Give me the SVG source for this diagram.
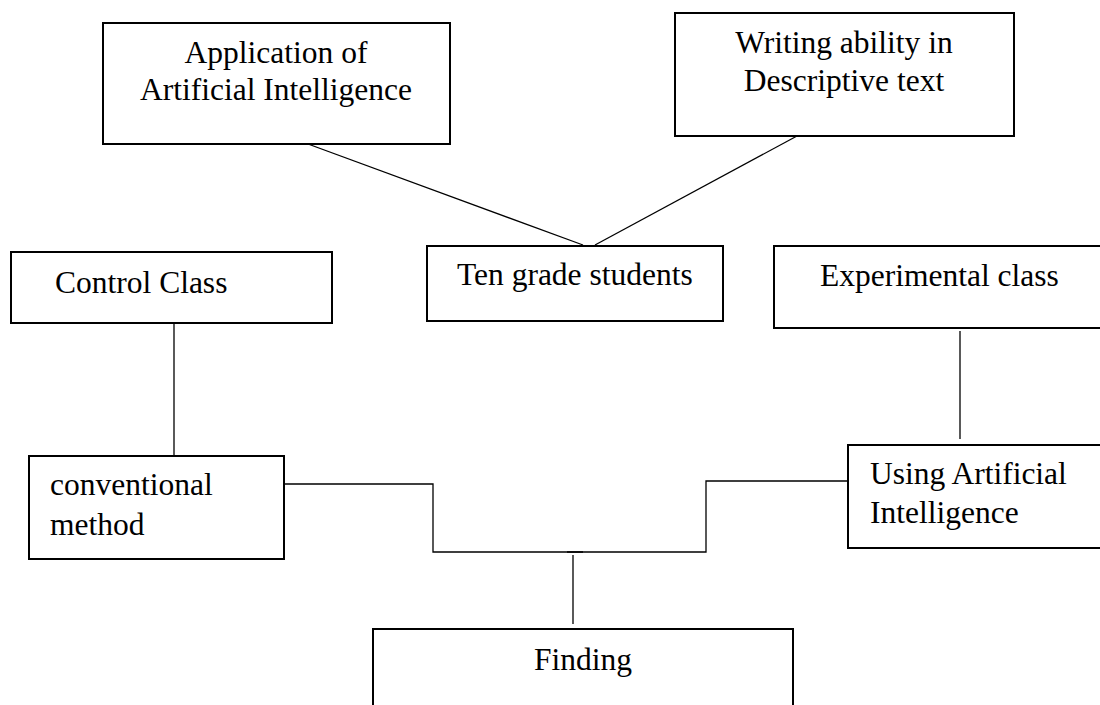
<svg xmlns="http://www.w3.org/2000/svg" width="1100" height="705" viewBox="0 0 1100 705">
<style>
.box{fill:#fff;stroke:#000;stroke-width:2}
.ln{fill:none;stroke:#000;stroke-width:1.3}
text{font-family:"Liberation Serif","Times New Roman",serif;font-size:31.5px;fill:#000}
.c{text-anchor:middle}
</style>
<rect width="1100" height="705" fill="#fff"/>
<g id="connectors">
<line class="ln" x1="308" y1="144" x2="583" y2="245"/>
<line class="ln" x1="797" y1="136" x2="595" y2="245"/>
<line class="ln" x1="174" y1="321" x2="174" y2="456"/>
<line class="ln" x1="960" y1="331" x2="960" y2="439"/>
<polyline class="ln" points="285,484 433,484 433,552 583,552"/>
<polyline class="ln" points="847,481 706,481 706,552 567,552"/>
<line class="ln" x1="573" y1="555" x2="573" y2="624"/>
</g>
<g id="n1"><rect class="box" x="103" y="23" width="347" height="121"/>
<text class="c" x="276" y="63">Application of</text>
<text class="c" x="276" y="100">Artificial Intelligence</text></g>
<g id="n2"><rect class="box" x="675" y="13" width="339" height="123"/>
<text class="c" x="844" y="53">Writing ability in</text>
<text class="c" x="844" y="91">Descriptive text</text></g>
<g id="n3"><rect class="box" x="11" y="252" width="321" height="71"/>
<text x="55" y="293">Control Class</text></g>
<g id="n4"><rect class="box" x="427" y="246" width="296" height="75"/>
<text x="457" y="285">Ten grade students</text></g>
<g id="n5"><rect class="box" x="774" y="246" width="330" height="82"/>
<text x="820" y="286">Experimental class</text></g>
<g id="n6"><rect class="box" x="29" y="456" width="255" height="103"/>
<text x="50" y="495">conventional</text>
<text x="50" y="535">method</text></g>
<g id="n7"><rect class="box" x="848" y="445" width="256" height="103"/>
<text x="870" y="484">Using Artificial</text>
<text x="870" y="523">Intelligence</text></g>
<g id="n8"><rect class="box" x="373" y="629" width="420" height="90"/>
<text class="c" x="583" y="670">Finding</text></g>
</svg>
